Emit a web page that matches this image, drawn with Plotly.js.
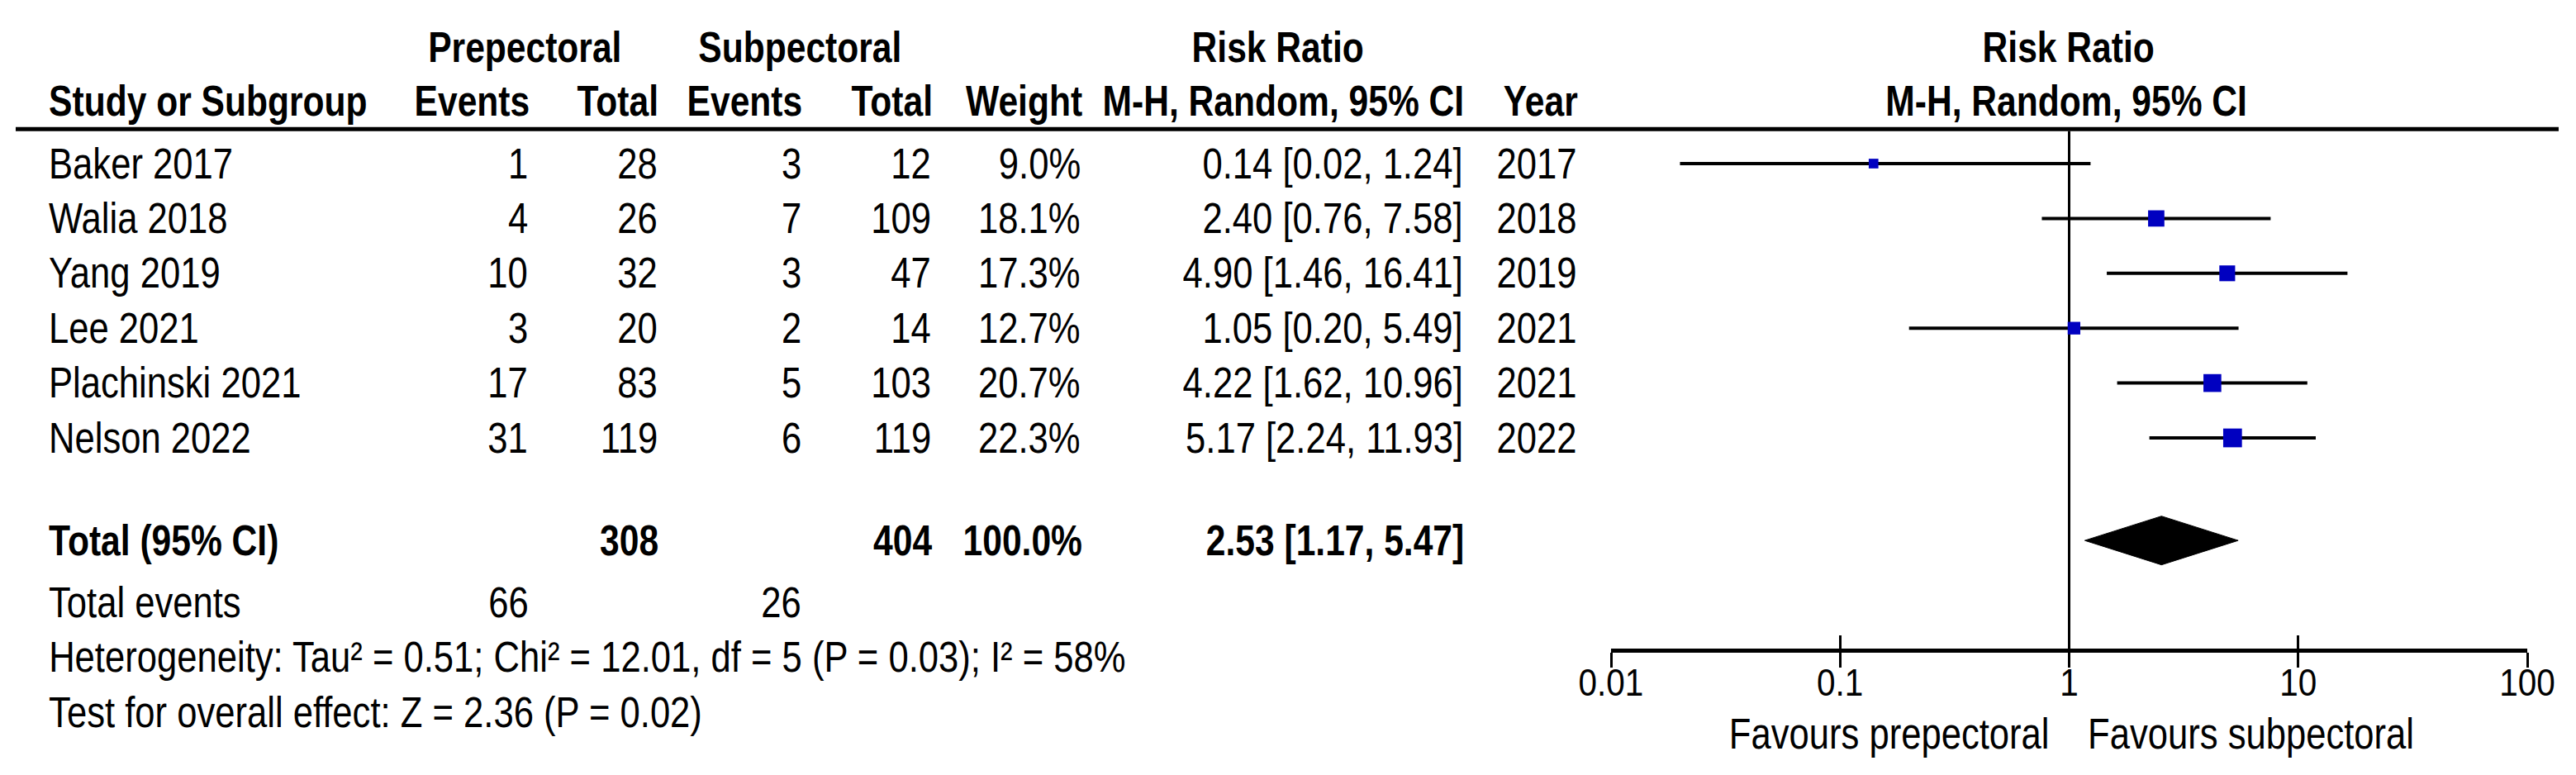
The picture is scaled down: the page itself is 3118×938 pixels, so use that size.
<!DOCTYPE html>
<html><head><meta charset="utf-8">
<script src="https://cdn.plot.ly/plotly-3.0.1.min.js"></script>
<style>html,body{margin:0;padding:0;background:#fff;overflow:hidden}</style>
</head><body><div id="chart" style="width:3118px;height:938px"></div>
<script>
// ---------- data ----------
const studies   = ['Baker 2017','Walia 2018','Yang 2019','Lee 2021','Plachinski 2021','Nelson 2022'];
const preEvents = [1, 4, 10, 3, 17, 31];
const preTotal  = [28, 26, 32, 20, 83, 119];
const subEvents = [3, 7, 3, 2, 5, 6];
const subTotal  = [12, 109, 47, 14, 103, 119];
const weights   = [9.0, 18.1, 17.3, 12.7, 20.7, 22.3];
const rr        = [0.14, 2.40, 4.90, 1.05, 4.22, 5.17];
const ciLow     = [0.02, 0.76, 1.46, 0.20, 1.62, 2.24];
const ciHigh    = [1.24, 7.58, 16.41, 5.49, 10.96, 11.93];
const years     = [2017, 2018, 2019, 2021, 2021, 2022];
const pooled    = [2.53, 1.17, 5.47];      // RR, lower, upper
const totalN    = [308, 404];
const totalEv   = [66, 26];
const totalW    = 100.0;
const tickVals  = [0.01, 0.1, 1, 10, 100];
const tickText  = ['0.01', '0.1', '1', '10', '100'];
const heteroTxt = 'Heterogeneity: Tau\u00b2 = 0.51; Chi\u00b2 = 12.01, df = 5 (P = 0.03); I\u00b2 = 58%';
const overallTxt= 'Test for overall effect: Z = 2.36 (P = 0.02)';

// ---------- layout helpers ----------
const W = 3118, H = 938;
const FONT = '"Liberation Sans",Arial,sans-serif';
const FS = 51;
const ROW0 = 198, PITCH = 66.4;
const px = v => v / W;
const TOTAL_ROW = 6.87;
const SQ_REG = 0.855, SQ_BOLD = 0.835, SQ_TICK = 0.88;

const ann = [];
const annMeta = [];
function txt(t, xpx, row, anchor, bold, size) {
  ann.push({text: bold ? '<b>' + t + '</b>' : t, x: px(xpx), xref: 'paper', y: row, yref: 'y',
    xanchor: anchor, yanchor: 'middle', showarrow: false,
    font: {family: FONT, size: size || FS, color: '#000'}});
  annMeta.push({anchor: anchor, sx: bold ? SQ_BOLD : SQ_REG});
}
// headers
txt('Prepectoral', 635, -2.12, 'center', true);
txt('Subpectoral', 968, -2.12, 'center', true);
txt('Risk Ratio', 1546, -2.12, 'center', true);
txt('Risk Ratio', 2503, -2.12, 'center', true);
txt('Study or Subgroup', 57, -1.13, 'left', true);
txt('Events', 643, -1.13, 'right', true);
txt('Total', 799, -1.13, 'right', true);
txt('Events', 973, -1.13, 'right', true);
txt('Total', 1131, -1.13, 'right', true);
txt('Weight', 1312, -1.13, 'right', true);
txt('M-H, Random, 95% CI', 1774, -1.13, 'right', true);
txt('Year', 1912, -1.13, 'right', true);
txt('M-H, Random, 95% CI', 2501, -1.13, 'center', true);
// study rows
const ci = (a, b, c) => a.toFixed(2) + ' [' + b.toFixed(2) + ', ' + c.toFixed(2) + ']';
studies.forEach((s, i) => {
  txt(s, 57, i, 'left');
  txt(String(preEvents[i]), 641, i, 'right');
  txt(String(preTotal[i]), 798, i, 'right');
  txt(String(subEvents[i]), 972, i, 'right');
  txt(String(subTotal[i]), 1129, i, 'right');
  txt(weights[i].toFixed(1) + '%', 1310, i, 'right');
  txt(ci(rr[i], ciLow[i], ciHigh[i]), 1773, i, 'right');
  txt(String(years[i]), 1910, i, 'right');
});
// total rows
txt('Total (95% CI)', 57, TOTAL_ROW, 'left', true);
txt(String(totalN[0]), 799, TOTAL_ROW, 'right', true);
txt(String(totalN[1]), 1131, TOTAL_ROW, 'right', true);
txt(totalW.toFixed(1) + '%', 1312, TOTAL_ROW, 'right', true);
txt(ci(pooled[0], pooled[1], pooled[2]), 1774, TOTAL_ROW, 'right', true);
txt('Total events', 57, 8, 'left');
txt(String(totalEv[0]), 642, 8, 'right');
txt(String(totalEv[1]), 972, 8, 'right');
txt(heteroTxt, 57, 9, 'left');
txt(overallTxt, 57, 10, 'left');
txt('Favours prepectoral', 2483, 10.4, 'right');
txt('Favours subpectoral', 2525, 10.4, 'left');

// ---------- traces ----------
const rows = studies.map((s, i) => i);
const boxSize = weights.map(w => 6.4 * Math.sqrt(w) - 7.5);
const studyTrace = {
  type: 'scatter', mode: 'markers', x: rr, y: rows, xaxis: 'x', yaxis: 'y',
  marker: {symbol: 'square', size: boxSize, color: '#0000c0', opacity: 1, line: {width: 0}},
  error_x: {type: 'data', symmetric: false,
            array: rr.map((v, i) => ciHigh[i] - v), arrayminus: rr.map((v, i) => v - ciLow[i]),
            color: '#000', thickness: 4, width: 0},
  hoverinfo: 'skip'
};
const dh = 0.444;
const diamond = {
  type: 'scatter', mode: 'lines', fill: 'toself', fillcolor: '#000',
  x: [pooled[1], pooled[0], pooled[2], pooled[0], pooled[1]],
  y: [TOTAL_ROW, TOTAL_ROW - dh, TOTAL_ROW, TOTAL_ROW + dh, TOTAL_ROW],
  line: {color: '#000', width: 1}, xaxis: 'x', yaxis: 'y', hoverinfo: 'skip'
};
const dummy = {type: 'scatter', mode: 'markers', x: [1], y: [0], xaxis: 'x2', yaxis: 'y',
  marker: {opacity: 0}, hoverinfo: 'skip'};

const axPos = 1 - 787 / H;
const dom = [px(1950), px(3059)];
const layout = {
  width: W, height: H, margin: {l: 0, r: 0, t: 0, b: 0},
  paper_bgcolor: '#fff', plot_bgcolor: 'rgba(0,0,0,0)', showlegend: false, hovermode: false,
  xaxis: {type: 'log', range: [-2, 2], domain: dom, anchor: 'free', position: axPos,
    showline: true, linewidth: 5, linecolor: '#000', ticks: 'outside', ticklen: 18, tickwidth: 3,
    tickcolor: '#000', tickvals: tickVals, showticklabels: false, showgrid: false, zeroline: false,
    fixedrange: true},
  xaxis2: {type: 'log', range: [-2, 2], domain: dom, anchor: 'free', position: axPos,
    overlaying: 'x', matches: 'x', showline: false, ticks: 'inside', ticklen: 18, tickwidth: 3,
    tickcolor: '#000', tickvals: tickVals, ticktext: tickText, showticklabels: true,
    ticklabelstandoff: 8, tickfont: {family: FONT, size: 46, color: '#000'},
    showgrid: false, zeroline: false},
  yaxis: {range: [(H - ROW0) / PITCH, -ROW0 / PITCH], domain: [0, 1], visible: false,
    showgrid: false, zeroline: false, fixedrange: true},
  shapes: [
    {type: 'line', xref: 'paper', yref: 'y', x0: px(19), x1: px(3097), y0: -0.63, y1: -0.63,
     line: {color: '#000', width: 5}},
    {type: 'line', xref: 'x', yref: 'y', x0: 1, x1: 1, y0: -0.59, y1: 8.87,
     line: {color: '#000', width: 3}, layer: 'below'}
  ],
  annotations: ann
};

// condense text horizontally to match the narrow lettering of the original
function condense(el, origin, s) {
  let pre = '';
  const tr = el.getAttribute('transform');
  if (tr) {
    const m = tr.match(/translate\(\s*([-\d.e]+)[ ,]*([-\d.e]*)\s*\)/);
    if (!m) return;
    pre = 'translate(' + parseFloat(m[1]) + 'px,' + (parseFloat(m[2]) || 0) + 'px) ';
  }
  el.style.transformBox = 'fill-box';
  el.style.transformOrigin = origin + ' center';
  el.style.transform = pre + 'scaleX(' + s + ')';
}
Plotly.newPlot('chart', [studyTrace, diamond, dummy], layout, {staticPlot: true, displayModeBar: false})
  .then(gd => {
    gd.querySelectorAll('g.annotation').forEach(g => {
      const i = +g.getAttribute('data-index');
      const m = annMeta[i];
      const t = g.querySelector('text.annotation-text');
      if (!m || !t) return;
      condense(t, m.anchor, m.sx);
    });
    gd.querySelectorAll('g.xtick text, g.x2tick text').forEach(t => condense(t, 'center', SQ_TICK));
  });
</script></body></html>
